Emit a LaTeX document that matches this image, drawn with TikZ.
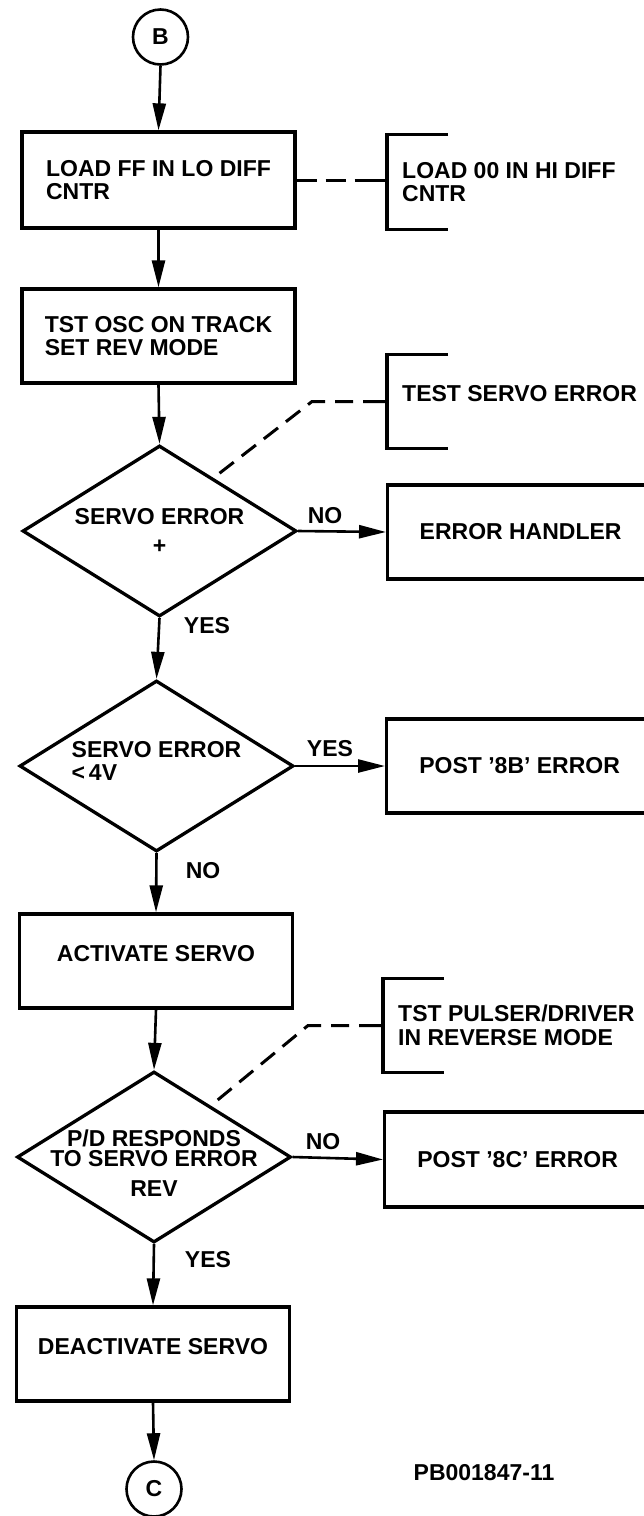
\documentclass[tikz,border=0pt]{standalone}
\usepackage{fontspec}
\setmainfont{Liberation Sans}
\usetikzlibrary{shapes.geometric,arrows.meta,calc}
\begin{document}
\begin{tikzpicture}[x=1pt,y=-1pt,
  font=\fontsize{23}{23.5}\selectfont\bfseries,
  box/.style={draw,line width=3.3pt,minimum width=273pt,minimum height=94pt,inner sep=0pt,align=left},
  rbox/.style={draw,line width=3.3pt,anchor=west,minimum width=266pt,minimum height=94pt,inner sep=0pt},
  dec/.style={diamond,draw,line width=3.3pt,inner sep=0pt,minimum width=274pt,minimum height=171pt},
  conc/.style={circle,draw,line width=2.6pt,minimum size=55pt,inner sep=0pt},
  lab/.style={inner sep=0pt},
  note/.style={anchor=west,inner xsep=15pt,inner ysep=0pt,align=left,minimum height=93pt},
  conn/.style={draw,line width=2.6pt,-{Triangle[length=27pt,width=13pt]}},
  dashA/.style={line width=3pt,dash pattern=on 20pt off 9pt on 20pt off 9pt on 40pt},
  dashB/.style={line width=3pt,dash pattern=on 24pt off 10pt on 18pt off 10pt on 18pt off 10pt on 18pt off 10pt on 18pt off 10pt on 18pt off 10pt on 18pt off 10pt},
  brk/.style={line width=3.3pt}
]
\useasboundingbox (0,0) rectangle (644,1516);
\clip (0,0) rectangle (644,1516);

% main column
\node[conc] (B) at (160.5,37) {B};
\node[box,minimum height=96pt] (b1) at (158.5,180) {LOAD FF IN LO DIFF\\CNTR};
\node[box] (b2) at (158.5,336) {TST OSC ON TRACK\\SET REV MODE};
\node[dec,label={[lab,align=center]center:{SERVO ERROR\\[5pt]+}}] (d1) at (159.5,531) {};
\node[dec,label={[lab,align=left,yshift=5pt]center:{SERVO ERROR\\<\,4V}}] (d2) at (156.5,766) {};
\node[box,text depth=16pt] (b3) at (156,961) {ACTIVATE SERVO};
\node[dec,label={[lab,align=center,yshift=-6pt]center:{P/D RESPONDS\\[-3pt]TO SERVO ERROR\\[6pt]REV}}] (d3) at (154,1157) {};
\node[box,text depth=16pt] (b4) at (153,1354) {DEACTIVATE SERVO};
\node[conc] (C) at (154,1489) {C};

% right column
\node[rbox] (err) at (386,532) {ERROR HANDLER};
\node[rbox] (p8b) at (385,766) {POST '8B' ERROR};
\node[rbox,minimum height=95pt] (p8c) at (383,1159.5) {POST '8C' ERROR};

% annotation notes
\node[note,minimum height=94pt] (n1) at (387,182) {LOAD 00 IN HI DIFF\\CNTR};
\node[note,text depth=16pt] (n2) at (387,401.5) {TEST SERVO ERROR};
\node[note] (n3) at (383,1025.5) {TST PULSER/DRIVER\\IN REVERSE MODE};

\foreach \n in {n1,n2,n3}{
  \draw[brk] ([xshift=61pt]\n.north west) -- (\n.north west) -- (\n.south west) -- ([xshift=61pt]\n.south west);
}

% labels
\node[lab] (l1) at (325,516) {NO};
\node[lab] (l2) at (207,626) {YES};
\node[lab] (l3) at (330,749) {YES};
\node[lab] (l4) at (203,871) {NO};
\node[lab] (l5) at (323,1142) {NO};
\node[lab] (l6) at (208,1260) {YES};
\node[lab] (pb) at (484,1473) {PB001847-11};

% connectors
\draw[conn] (B.south) -- (b1.north);
\draw[conn] (b1.south) -- (b2.north);
\draw[conn] (b2.south) -- (d1.north);
\draw[conn] (d1.south) -- (d2.north);
\draw[conn] (d2.south) -- (b3.north);
\draw[conn] (b3.south) -- (d3.north);
\draw[conn] (d3.south) -- (b4.north);
\draw[conn] (b4.south) -- (C.north);
\draw[conn] (d1.east) -- (err.west);
\draw[conn] (d2.east) -- (p8b.west);
\draw[conn] (d3.east) -- (p8c.west);

% dashed annotation links
\draw[dashA] (b1.east) -- (b1.east -| n1.west);
\draw[dashB] (n2.west) -- ++(-75,0) -- ($(d1.north)!0.39!(d1.east)$);
\draw[dashB] (n3.west) -- ++(-75,0) -- ($(d3.north)!0.41!(d3.east)$);
\end{tikzpicture}
\end{document}
